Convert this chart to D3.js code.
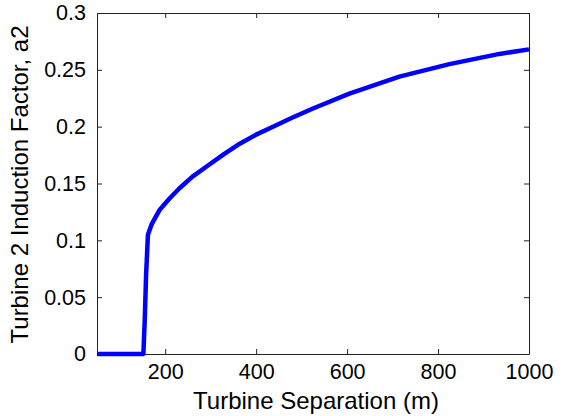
<!DOCTYPE html>
<html>
<head>
<meta charset="utf-8">
<script src="https://cdn.jsdelivr.net/npm/d3@7"></script>
<style>
  body { margin: 0; background: #fff; }
  text { font-family: Arial, "Liberation Sans", Helvetica, sans-serif; fill: #000; }
</style>
</head>
<body>
<svg id="chart" width="569" height="416"></svg>
<script>
// values
const separation = [50, 152, 155, 158, 162, 170, 188, 210, 232, 260, 291, 330, 364, 400, 437, 480, 525, 605, 715, 825, 935, 1000];
const a2 = [0, 0, 0.03, 0.07, 0.105, 0.114, 0.127, 0.137, 0.146, 0.156, 0.165, 0.176, 0.185, 0.193, 0.200, 0.208, 0.216, 0.229, 0.244, 0.255, 0.264, 0.268];
const xTicks = [200, 400, 600, 800, 1000];
const yTicks = [0, 0.05, 0.1, 0.15, 0.2, 0.25, 0.3];

const margin = {left: 97, right: 40, top: 13, bottom: 62};
const W = 569, H = 416;

const svg = d3.select("#chart");

const x = d3.scaleLinear().domain([50, 1000]).range([margin.left, W - margin.right]);
const y = d3.scaleLinear().domain([0, 0.3]).range([H - margin.bottom, margin.top]);

const tickLen = 5;

// bottom + top axes
svg.append("g")
    .attr("transform", `translate(0,${y(0)})`)
    .call(d3.axisBottom(x).tickValues(xTicks).tickSizeInner(-tickLen).tickSizeOuter(0).tickPadding(10).tickFormat(d3.format("d")))
    .call(g => g.selectAll("text").attr("font-size", 21.5));

svg.append("g")
    .attr("transform", `translate(0,${y(0.3)})`)
    .call(d3.axisTop(x).tickValues(xTicks).tickSizeInner(-tickLen).tickSizeOuter(0).tickFormat(""));

// left + right axes
svg.append("g")
    .attr("transform", `translate(${x(50)},0)`)
    .call(d3.axisLeft(y).tickValues(yTicks).tickSizeInner(-tickLen).tickSizeOuter(0).tickPadding(11).tickFormat(d => d === 0 ? "0" : d3.format("")(+d.toFixed(2))))
    .call(g => g.selectAll("text").attr("font-size", 21.5));

svg.append("g")
    .attr("transform", `translate(${x(1000)},0)`)
    .call(d3.axisRight(y).tickValues(yTicks).tickSizeInner(-tickLen).tickSizeOuter(0).tickFormat(""));

svg.selectAll(".domain").attr("stroke", "#222");
svg.selectAll(".tick line").attr("stroke", "#222");

// line
const line = d3.line().x((d, i) => x(separation[i])).y(d => y(d));

svg.append("path")
    .datum(a2)
    .attr("fill", "none")
    .attr("stroke", "#0000ff")
    .attr("stroke-width", 4.5)
    .attr("stroke-linejoin", "round")
    .attr("d", line);

// labels
svg.append("text")
    .attr("x", (x(50) + x(1000)) / 2 + 3)
    .attr("y", 409)
    .attr("text-anchor", "middle")
    .attr("font-size", 24)
    .text("Turbine Separation (m)");

svg.append("text")
    .attr("transform", `translate(28,${(y(0) + y(0.3)) / 2 + 1}) rotate(-90)`)
    .attr("text-anchor", "middle")
    .attr("font-size", 24)
    .text("Turbine 2 Induction Factor, a2");
</script>
</body>
</html>
